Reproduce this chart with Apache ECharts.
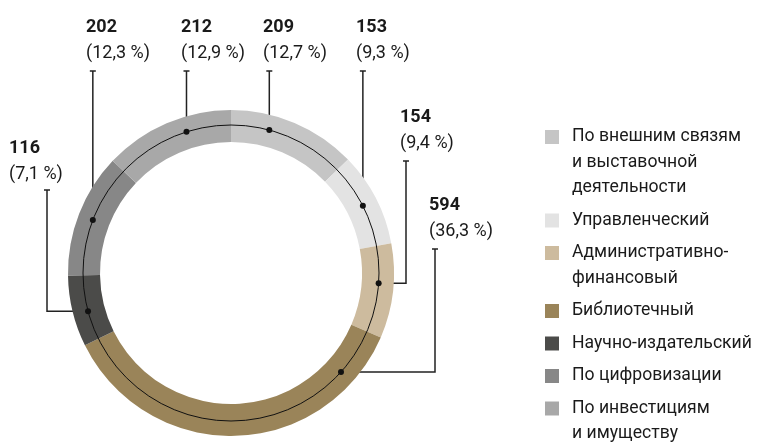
<!DOCTYPE html>
<html>
<head>
<meta charset="UTF-8">
<title>Donut</title>
<style>
  html, body { margin: 0; padding: 0; background: #fff; }
  #chart { width: 762px; height: 446px; }
</style>
<script src="https://cdn.jsdelivr.net/npm/echarts@6/dist/echarts.min.js"></script>
</head>
<body>
<div id="chart"></div>
<script>
var categories = ['По внешним связям и выставочной деятельности', 'Управленческий', 'Административно-финансовый', 'Библиотечный', 'Научно-издательский', 'По цифровизации', 'По инвестициям и имуществу'];
var legendLabels = ['По внешним связям\nи выставочной\nдеятельности', 'Управленческий', 'Административно-\nфинансовый', 'Библиотечный', 'Научно-издательский', 'По цифровизации', 'По инвестициям\nи имуществу'];
var values = [209, 153, 154, 594, 116, 202, 212];
var percents = ['12,7', '9,3', '9,4', '36,3', '7,1', '12,3', '12,9'];

var colors = ['#c5c5c5', '#e3e3e3', '#cdbb9e', '#9a8459', '#4b4b49', '#878787', '#a8a8a8'];
var font = 'Roboto';
var cx = 231, cy = 273, midR = 148;

// label box (x, y), leader x (null = straight down), leader top, dot angle (deg, clockwise from top)
var labelPos = [
  { x: 263, y: 14, lx: null, top: 71, a: 15 },
  { x: 356, y: 14, lx: null, top: 71, a: 63 },
  { x: 400, y: 104, lx: 406, top: 161, a: 94 },
  { x: 429, y: 192, lx: 435, top: 249, a: 132 },
  { x: 9, y: 135, lx: 47, top: 190, a: 255 },
  { x: 86, y: 14, lx: null, top: 71, a: 291 },
  { x: 181, y: 14, lx: null, top: 71, a: 342.5 }
];

function dotPoint(a) {
  var r = a * Math.PI / 180;
  return [cx + midR * Math.sin(r), cy - midR * Math.cos(r)];
}

var myChart = echarts.init(document.getElementById('chart'));

var data = categories.map(function (name, i) {
  return { name: name, value: values[i], itemStyle: { color: colors[i] } };
});

var graphics = [{
  type: 'circle',
  shape: { cx: cx, cy: cy, r: midR },
  style: { fill: 'none', stroke: '#111', lineWidth: 1 },
  z: 10
}];

labelPos.forEach(function (L) {
  var p = dotPoint(L.a);
  graphics.push({
    type: 'circle',
    shape: { cx: p[0], cy: p[1], r: 3 },
    style: { fill: '#111' },
    z: 12
  });
});

// legend
var ly = 137;
legendLabels.forEach(function (txt, i) {
  graphics.push({
    type: 'rect',
    shape: { x: 545, y: ly - 7, width: 14, height: 14 },
    style: { fill: colors[i] }
  });
  graphics.push({
    type: 'text',
    style: {
      x: 572, y: ly - 12.75, text: txt,
      font: '17.6px ' + font, fill: '#1a1a1a',
      lineHeight: 25.5, verticalAlign: 'top', align: 'left'
    }
  });
  ly += 32.5 + (txt.split('\n').length - 1) * 25.5;
});

var option = {
  animation: false,
  graphic: graphics,
  series: [{
    type: 'pie',
    center: [cx, cy],
    radius: [131, 163],
    startAngle: 90,
    clockwise: true,
    avoidLabelOverlap: false,
    silent: true,
    data: data,
    label: {
      show: true,
      position: 'outside',
      formatter: function (p) {
        return '{v|' + p.value + '}\n{p|(' + percents[p.dataIndex] + ' %)}';
      },
      rich: {
        v: { fontFamily: font, fontWeight: 'bold', fontSize: 18, lineHeight: 26, color: '#1a1a1a' },
        p: { fontFamily: font, fontSize: 18, lineHeight: 26, color: '#1a1a1a' }
      }
    },
    labelLine: {
      show: true,
      smooth: false,
      lineStyle: { color: '#222', width: 1.5 }
    },
    labelLayout: function (params) {
      var L = labelPos[params.dataIndex];
      var d = dotPoint(L.a);
      var pts;
      if (L.lx === null) {
        var x = d[0];
        pts = [[x - 3, L.top], [x + 3, L.top], [x, L.top], [x, d[1]]];
      } else {
        pts = [[L.lx - 3, L.top], [L.lx + 3, L.top], [L.lx, L.top], [L.lx, d[1]], d];
      }
      return { x: L.x, y: L.y, align: 'left', verticalAlign: 'top', labelLinePoints: pts };
    }
  }]
};
myChart.setOption(option);
</script>
</body>
</html>
